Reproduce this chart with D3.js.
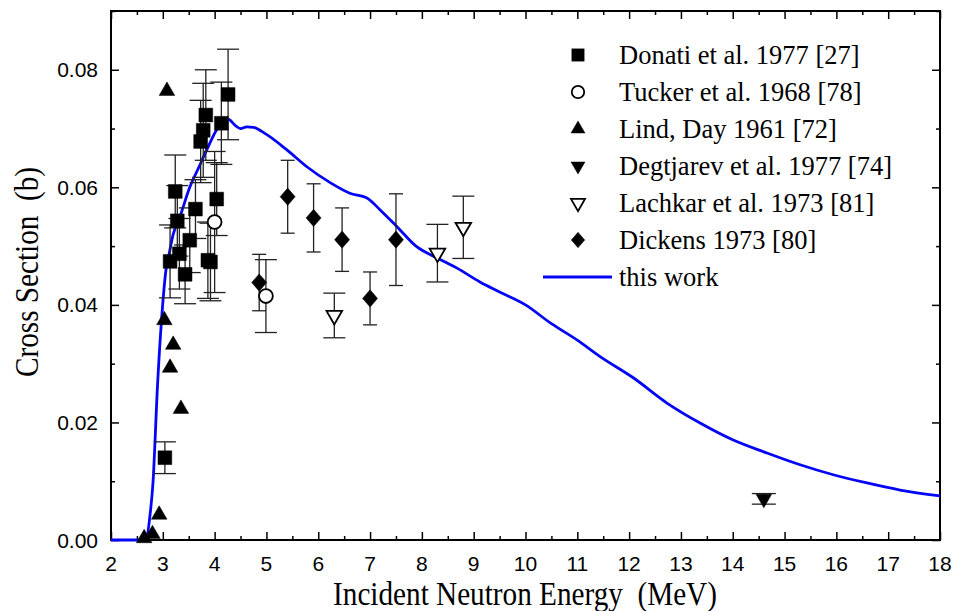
<!DOCTYPE html>
<html>
<head>
<meta charset="utf-8">
<script src="https://cdn.jsdelivr.net/npm/d3@7"></script>
<style>
  html, body { margin: 0; padding: 0; background: #fff; }
  svg { display: block; }
  .title { white-space: pre; }
</style>
</head>
<body>
<svg id="chart" width="954" height="611"></svg>
<script>
// [energy MeV, cross section b, error b]
const donati = [
  [3.04, 0.0140, 0.0027], [3.14, 0.0474, 0.0062], [3.24, 0.0593, 0.0062],
  [3.28, 0.0543, 0.0060], [3.32, 0.0487, 0.0060], [3.43, 0.0452, 0.0050],
  [3.52, 0.0510, 0.0055], [3.63, 0.0563, 0.0050], [3.73, 0.0678, 0.0070],
  [3.78, 0.0697, 0.0080], [3.83, 0.0723, 0.0077], [3.87, 0.0476, 0.0065],
  [3.92, 0.0473, 0.0066], [4.04, 0.0580, 0.0062], [4.13, 0.0709, 0.0070],
  [4.26, 0.0758, 0.0077]
];
const tucker = [[4.00, 0.0541, 0.0120], [4.99, 0.0415, 0.0062]];
const lindDay = [
  [3.08, 0.0764], [3.03, 0.0374], [3.20, 0.0332], [3.14, 0.0293],
  [3.35, 0.0223], [2.93, 0.0043], [2.80, 0.0010], [2.64, 0.0003]
];
const degtjarev = [[14.60, 0.0070, 0.0009]];
const lachkar = [[6.31, 0.0382, 0.0038], [8.30, 0.0488, 0.0049], [8.80, 0.0532, 0.0053]];
const dickens = [
  [4.86, 0.0438, 0.0048], [5.41, 0.0584, 0.0062], [5.91, 0.0548, 0.0058],
  [6.46, 0.0511, 0.0054], [7.00, 0.0411, 0.0045], [7.50, 0.0511, 0.0078]
];
const thisWork = [
  [2.0, 0], [2.55, 0], [2.68, 0.0002], [2.75, 0.004], [2.81, 0.0097], [2.9, 0.0267],
  [2.98, 0.038], [3.07, 0.0465], [3.1, 0.0477], [3.2, 0.052], [3.33, 0.055],
  [3.52, 0.060], [3.7, 0.0635], [3.85, 0.0664], [4.04, 0.0698], [4.15, 0.0710],
  [4.26, 0.0716], [4.39, 0.0706], [4.5, 0.0700], [4.62, 0.0703], [4.75, 0.0702],
  [5.0, 0.0690], [5.39, 0.0664], [5.78, 0.0635], [6.23, 0.0608], [6.61, 0.0590],
  [6.94, 0.0582], [7.19, 0.0562], [7.52, 0.0533], [7.9, 0.0499], [8.29, 0.0480],
  [8.67, 0.0463], [9.12, 0.0439], [9.5, 0.0422], [10, 0.0400], [10.5, 0.0368],
  [11, 0.0340], [11.44, 0.0312], [12.08, 0.0276], [12.73, 0.0233], [13.37, 0.0199],
  [14.01, 0.0170], [14.66, 0.0148], [15.3, 0.0128], [15.94, 0.0111], [16.59, 0.0097],
  [17.23, 0.0085], [18, 0.0075]
];
const legendLabels = [
  'Donati et al. 1977 [27]', 'Tucker et al. 1968 [78]', 'Lind, Day 1961 [72]',
  'Degtjarev et al. 1977 [74]', 'Lachkar et al. 1973 [81]', 'Dickens 1973 [80]', 'this work'
];
const xTicks = d3.range(2, 19, 1);
const yTicks = [0, 0.02, 0.04, 0.06, 0.08];

const m = { left: 111, right: 940, top: 11, bottom: 540 };
const serif = 'Liberation Serif, Times New Roman, serif';
const svg = d3.select('#chart');
const x = d3.scaleLinear().domain([2, 18]).range([m.left, m.right]);
const y = d3.scaleLinear().domain([0, 0.09]).range([m.bottom, m.top]);

// marker shapes
const diamond = (s) => `M0,${-s * 1.15}L${s},0L0,${s * 1.15}L${-s},0Z`;
const sq = d3.symbol(d3.symbolSquare, 190)();
const tri = d3.symbol(d3.symbolTriangle, 105)();
const circ = d3.symbol(d3.symbolCircle, 150)();

const series = [
  { data: donati, path: sq, fill: '#000', rot: 0, cap: 11 },
  { data: tucker, path: circ, fill: '#fff', rot: 0, cap: 11 },
  { data: lindDay, path: tri, fill: '#000', rot: 0, cap: 0 },
  { data: degtjarev, path: tri, fill: '#000', rot: 180, cap: 12 },
  { data: lachkar, path: tri, fill: '#fff', rot: 180, cap: 11 },
  { data: dickens, path: diamond(7.5), fill: '#000', rot: 0, cap: 7 }
];

// axes (inward ticks)
const axisG = svg.append('g').attr('font-family', 'Liberation Sans, Arial, sans-serif');
const minorX = d3.range(2.5, 18, 1);
const minorY = [0.01, 0.03, 0.05, 0.07, 0.09];

const addTicks = (axis, pos, vals, len) => {
  axisG.append('g').attr('transform', pos)
    .call(axis.tickValues(vals).tickSize(len).tickFormat(''))
    .call(g => g.select('.domain').remove())
    .selectAll('line').attr('stroke', '#000').attr('stroke-width', 1.5);
};
addTicks(d3.axisBottom(x), `translate(0,${m.bottom})`, xTicks, -8);
addTicks(d3.axisBottom(x), `translate(0,${m.bottom})`, minorX, -4);
addTicks(d3.axisTop(x), `translate(0,${m.top})`, xTicks, -8);
addTicks(d3.axisTop(x), `translate(0,${m.top})`, minorX, -4);
addTicks(d3.axisLeft(y), `translate(${m.left},0)`, yTicks, -8);
addTicks(d3.axisLeft(y), `translate(${m.left},0)`, minorY, -4);
addTicks(d3.axisRight(y), `translate(${m.right},0)`, yTicks, -8);
addTicks(d3.axisRight(y), `translate(${m.right},0)`, minorY, -4);

axisG.selectAll('.xl').data(xTicks).enter().append('text')
  .attr('x', d => x(d)).attr('y', 571).attr('text-anchor', 'middle')
  .attr('font-size', 21).text(d => d);
axisG.selectAll('.yl').data(yTicks).enter().append('text')
  .attr('x', 98).attr('y', d => y(d) + 7.5).attr('text-anchor', 'end')
  .attr('font-size', 21).text(d => d.toFixed(2));

svg.append('rect')
  .attr('x', m.left).attr('y', m.top)
  .attr('width', m.right - m.left).attr('height', m.bottom - m.top)
  .attr('fill', 'none').attr('stroke', '#000').attr('stroke-width', 2);

// titles (condensed serif)
svg.append('text').attr('class', 'title')
  .attr('transform', 'translate(525,605) scale(0.885,1)').attr('text-anchor', 'middle')
  .attr('font-family', serif).attr('font-size', 33)
  .text('Incident Neutron Energy  (MeV)');
svg.append('text').attr('class', 'title')
  .attr('transform', 'translate(38,272) rotate(-90) scale(0.885,1)').attr('text-anchor', 'middle')
  .attr('font-family', serif).attr('font-size', 33)
  .text('Cross Section  (b)');

// curve
svg.append('path').datum(thisWork)
  .attr('fill', 'none').attr('stroke', '#0505f5').attr('stroke-width', 2.8)
  .attr('d', d3.line().x(d => x(d[0])).y(d => y(d[1])).curve(d3.curveMonotoneX));

// error bars
const eb = svg.append('g').attr('stroke', '#222').attr('stroke-width', 1.3);
series.filter(s => s.cap > 0).forEach(s => {
  s.data.forEach(d => {
    const cx = x(d[0]), y0 = y(d[1] - d[2]), y1 = y(d[1] + d[2]);
    eb.append('line').attr('x1', cx).attr('x2', cx).attr('y1', y0).attr('y2', y1);
    eb.append('line').attr('x1', cx - s.cap).attr('x2', cx + s.cap).attr('y1', y0).attr('y2', y0);
    eb.append('line').attr('x1', cx - s.cap).attr('x2', cx + s.cap).attr('y1', y1).attr('y2', y1);
  });
});

// markers
series.forEach(s => {
  svg.append('g').selectAll('path').data(s.data).enter().append('path')
    .attr('d', s.path)
    .attr('transform', d => `translate(${x(d[0])},${y(d[1])}) rotate(${s.rot})`)
    .attr('fill', s.fill).attr('stroke', '#000').attr('stroke-width', s.fill === '#fff' ? 1.8 : 0.5);
});

// legend
const lg = svg.append('g').attr('font-family', serif);
const rowY = (i) => 55 + i * 37;
series.forEach((s, i) => {
  lg.append('path').attr('d', s.path)
    .attr('transform', `translate(578,${rowY(i)}) rotate(${s.rot}) scale(0.9)`)
    .attr('fill', s.fill).attr('stroke', '#000').attr('stroke-width', s.fill === '#fff' ? 2 : 0.5);
});
lg.append('line').attr('x1', 543).attr('x2', 612).attr('y1', rowY(6)).attr('y2', rowY(6))
  .attr('stroke', '#0505f5').attr('stroke-width', 2.8);
lg.selectAll('text').data(legendLabels).enter().append('text')
  .attr('x', 619).attr('y', (d, i) => rowY(i) + 9).attr('font-size', 26.5).text(d => d);
</script>
</body>
</html>
